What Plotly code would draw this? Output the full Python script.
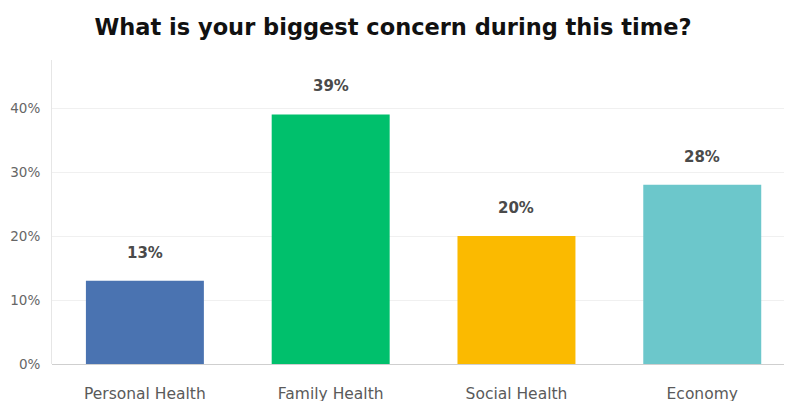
import plotly.graph_objects as go

categories = ["Personal Health", "Family Health", "Social Health", "Economy"]
values = [13, 39, 20, 28]
colors = ["#4a73b1", "#00c06c", "#fbba00", "#6cc7cb"]
y_ticks = [0, 10, 20, 30, 40]
y_tick_text = ["0%", "10%", "20%", "30%", "40%"]

fig = go.Figure()
fig.add_trace(go.Bar(
    x=list(range(len(categories))),
    y=values,
    marker=dict(color=colors, line=dict(width=0)),
    width=0.635,
    hoverinfo="skip",
))

# value labels floating above each bar
for i, v in enumerate(values):
    fig.add_annotation(
        x=i, y=v, text=f"<b>{v}%</b>", showarrow=False,
        yanchor="middle", yshift=28,
        font=dict(family="DejaVu Sans", size=15, color="#4a4a4a"),
    )

fig.update_layout(
    width=786, height=401,
    margin=dict(l=52, r=2, t=60, b=37),
    paper_bgcolor="white", plot_bgcolor="white",
    showlegend=False,
    title=dict(
        text="<b>What is your biggest concern during this time?</b>",
        x=0.5, xanchor="center", y=0.932, yanchor="middle",
        font=dict(family="DejaVu Sans", size=22.5, color="#111111"),
    ),
    xaxis=dict(
        range=[-0.5, 3.44],
        tickmode="array", tickvals=list(range(len(categories))), ticktext=categories,
        showgrid=False, zeroline=False, showline=False, ticks="",
        automargin=False,
        ticklabelstandoff=18,
        tickfont=dict(family="DejaVu Sans", size=15.5, color="#5a5a5a"),
    ),
    yaxis=dict(
        range=[0, 47.5],
        tickmode="array", tickvals=y_ticks, ticktext=y_tick_text,
        showgrid=True, gridcolor="#f0f0f0", gridwidth=1,
        zeroline=True, zerolinecolor="#cfcfcf", zerolinewidth=1,
        showline=True, linecolor="#e6e6e6", linewidth=1,
        ticks="", ticklabelstandoff=8, automargin=False,
        tickfont=dict(family="DejaVu Sans", size=13.5, color="#666666"),
    ),
)

fig.write_html("out.html")
